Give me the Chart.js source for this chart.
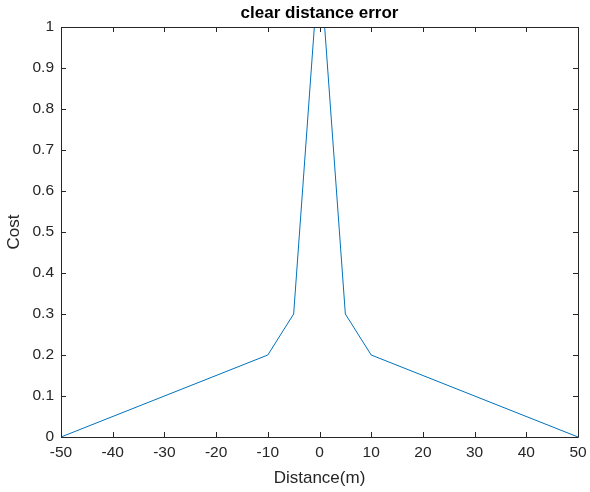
<!DOCTYPE html>
<html>
<head>
<meta charset="utf-8">
<script src="https://cdn.jsdelivr.net/npm/chart.js@4/dist/chart.umd.min.js"></script>
<style>
  html, body { margin: 0; padding: 0; background: #fff; }
  #wrap { width: 590px; height: 492px; }
</style>
</head>
<body>
<div id="wrap"><canvas id="chart" width="590" height="492"></canvas></div>
<script>
// clear distance error: cost vs distance
const distances = [-50, -10, -5, -1, 1, 5, 10, 50];
const costs = [0, 0.2, 0.3, 1, 1, 0.3, 0.2, 0];
const xTicks = [-50, -40, -30, -20, -10, 0, 10, 20, 30, 40, 50];
const yTicks = [0, 0.1, 0.2, 0.3, 0.4, 0.5, 0.6, 0.7, 0.8, 0.9, 1];

const axisColor = '#262626';
const fontFamily = '"Liberation Sans", Arial, Helvetica, sans-serif';

// matlab-style box with inward ticks on all four sides, plus the title
const boxPlugin = {
    id: 'boxPlugin',
    afterDraw(chart) {
        const ctx = chart.ctx;
        const area = chart.chartArea;
        const xs = chart.scales.x;
        const ys = chart.scales.y;
        const len = 5;
        ctx.save();
        ctx.strokeStyle = axisColor;
        ctx.lineWidth = 1;
        ctx.beginPath();
        ctx.rect(Math.round(area.left) + 0.5, Math.round(area.top) + 0.5,
            Math.round(area.right - area.left), Math.round(area.bottom - area.top));
        xTicks.forEach(v => {
            const px = Math.round(xs.getPixelForValue(v)) + 0.5;
            ctx.moveTo(px, area.bottom); ctx.lineTo(px, area.bottom - len);
            ctx.moveTo(px, area.top); ctx.lineTo(px, area.top + len);
        });
        yTicks.forEach(v => {
            const py = Math.round(ys.getPixelForValue(v)) + 0.5;
            ctx.moveTo(area.left, py); ctx.lineTo(area.left + len, py);
            ctx.moveTo(area.right, py); ctx.lineTo(area.right - len, py);
        });
        ctx.stroke();

        ctx.fillStyle = '#000';
        ctx.font = 'bold 17px ' + fontFamily;
        ctx.textAlign = 'center';
        ctx.textBaseline = 'middle';
        ctx.fillText('clear distance error', (area.left + area.right) / 2, 13);
        ctx.restore();
    }
};

new Chart(document.getElementById('chart').getContext('2d'), {
    type: 'scatter',
    data: {
        datasets: [{
            data: distances.map((d, i) => ({ x: d, y: costs[i] })),
            showLine: true,
            borderColor: '#0072BD',
            borderWidth: 1,
            pointRadius: 0,
            tension: 0,
            clip: 0
        }]
    },
    options: {
        responsive: false,
        animation: false,
        events: [],
        layout: { padding: { left: 0, top: 27, right: 12, bottom: 0 } },
        plugins: {
            legend: { display: false },
            tooltip: { enabled: false }
        },
        scales: {
            x: {
                type: 'linear',
                min: -50,
                max: 50,
                afterFit(scale) {
                    scale.height = 55;
                    scale.paddingLeft = 0;
                    scale.paddingRight = 0;
                },
                afterBuildTicks(scale) { scale.ticks = xTicks.map(v => ({ value: v })); },
                grid: { display: false, drawTicks: false },
                border: { display: false },
                ticks: {
                    padding: 6,
                    color: axisColor,
                    font: { family: fontFamily, size: 15.5 },
                    maxRotation: 0,
                    callback: v => String(v)
                },
                title: {
                    display: true,
                    text: 'Distance(m)',
                    color: axisColor,
                    font: { family: fontFamily, size: 17 },
                    padding: { top: 0, bottom: 3 }
                }
            },
            y: {
                type: 'linear',
                min: 0,
                max: 1,
                afterFit(scale) { scale.width = 61; },
                afterBuildTicks(scale) { scale.ticks = yTicks.map(v => ({ value: v })); },
                grid: { display: false, drawTicks: false },
                border: { display: false },
                ticks: {
                    padding: 7,
                    color: axisColor,
                    font: { family: fontFamily, size: 15.5 },
                    callback: v => String(Math.round(v * 10) / 10)
                },
                title: {
                    display: true,
                    text: 'Cost',
                    color: axisColor,
                    font: { family: fontFamily, size: 17 },
                    padding: { top: 4, bottom: 0 }
                }
            }
        }
    },
    plugins: [boxPlugin]
});
</script>
</body>
</html>
